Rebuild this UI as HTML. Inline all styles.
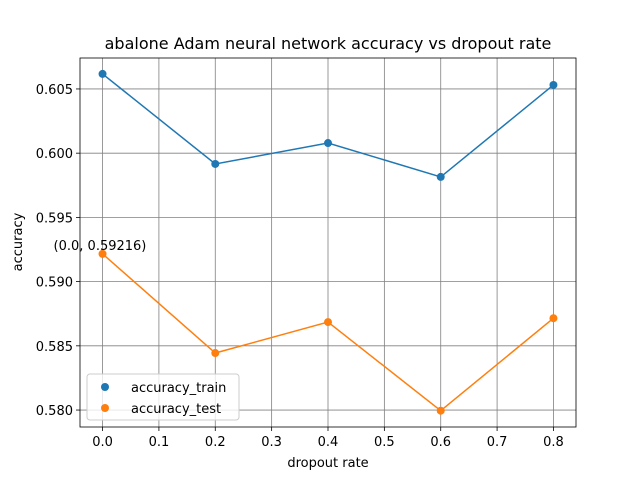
<!DOCTYPE html>
<html><head><meta charset="utf-8"><style>body{margin:0;background:#fff}svg{display:block;font-family:"DejaVu Sans","Liberation Sans",sans-serif}</style></head>
<body>
<svg id="chart" width="640" height="480"></svg>
<script>
const categories=[0.0,0.2,0.4,0.6,0.8];
const trainValues=[0.60617,0.59916,0.60079,0.59815,0.60531];
const testValues=[0.59216,0.58444,0.58685,0.57995,0.58715];
const xTicks=[0.0,0.1,0.2,0.3,0.4,0.5,0.6,0.7,0.8];
const yTicks=[0.580,0.585,0.590,0.595,0.600,0.605];
const L=80,R=576,T=58,B=427;
const xmin=-0.04,xmax=0.84,ymin=0.57868,ymax=0.60741;
const sx=v=>L+(v-xmin)/(xmax-xmin)*(R-L);
const sy=v=>B-(v-ymin)/(ymax-ymin)*(B-T);
const svg=document.getElementById('chart');
const NS='http://www.w3.org/2000/svg';
function mk(tag,attrs,parent,text){const e=document.createElementNS(NS,tag);for(const k in attrs)e.setAttribute(k,attrs[k]);if(text!==undefined)e.textContent=text;(parent||svg).appendChild(e);return e;}
const grid=mk('g',{});


xTicks.forEach(t=>{const x=sx(t);mk('line',{x1:x,x2:x,y1:T,y2:B,stroke:'#808080','stroke-width':0.8},grid);
mk('line',{x1:x,x2:x,y1:B,y2:B+4,stroke:'#000','stroke-width':0.8});
const tx=mk('text',{x:x,y:B+19,'font-size':13,'text-anchor':'middle'},svg,t.toFixed(1));

});
yTicks.forEach(t=>{const y=sy(t);mk('line',{x1:L,x2:R,y1:y,y2:y,stroke:'#808080','stroke-width':0.8},grid);
mk('line',{x1:L-4,x2:L,y1:y,y2:y,stroke:'#000','stroke-width':0.8});
const tx=mk('text',{x:L-7,y:y+5,'font-size':13,'text-anchor':'end'},svg,t.toFixed(3));

});
function series(vals,color,name){
const gg=mk('g',{});


mk('polyline',{points:vals.map((v,i)=>sx(categories[i])+','+sy(v)).join(' '),fill:'none',stroke:color,'stroke-width':1.5},gg);
vals.forEach((v,i)=>{const c=mk('circle',{cx:sx(categories[i]),cy:sy(v),r:4,fill:color},gg);

});}
series(trainValues,'#1f77b4','accuracy-train-series');
series(testValues,'#ff7f0e','accuracy-test-series');
const fr=mk('rect',{x:L,y:T,width:R-L,height:B-T,fill:'none',stroke:'#000','stroke-width':0.8});


const an=mk('text',{x:sx(categories[0])-49,y:sy(testValues[0])-4,'font-size':13},svg,'('+categories[0].toFixed(1)+', '+testValues[0]+')');


const ti=mk('text',{x:328,y:49,'font-size':16,'text-anchor':'middle'},svg,'abalone Adam neural network accuracy vs dropout rate');


const xl=mk('text',{x:328,y:467,'font-size':13,'text-anchor':'middle'},svg,'dropout rate');


const yl=mk('text',{x:22,y:242,'font-size':13,'text-anchor':'middle',transform:'rotate(-90 22 242)'},svg,'accuracy');


const lg=mk('g',{});


mk('rect',{x:87,y:374,width:152,height:46,rx:3,fill:'#fff','fill-opacity':0.8,stroke:'#ccc'},lg);
[['#1f77b4','accuracy_train',391],['#ff7f0e','accuracy_test',412]].forEach(([c,t,y])=>{
mk('circle',{cx:105,cy:y-4,r:4,fill:c},lg);
const e=mk('text',{x:131,y:y+1,'font-size':13},lg,t);

});
</script>
</body></html>
